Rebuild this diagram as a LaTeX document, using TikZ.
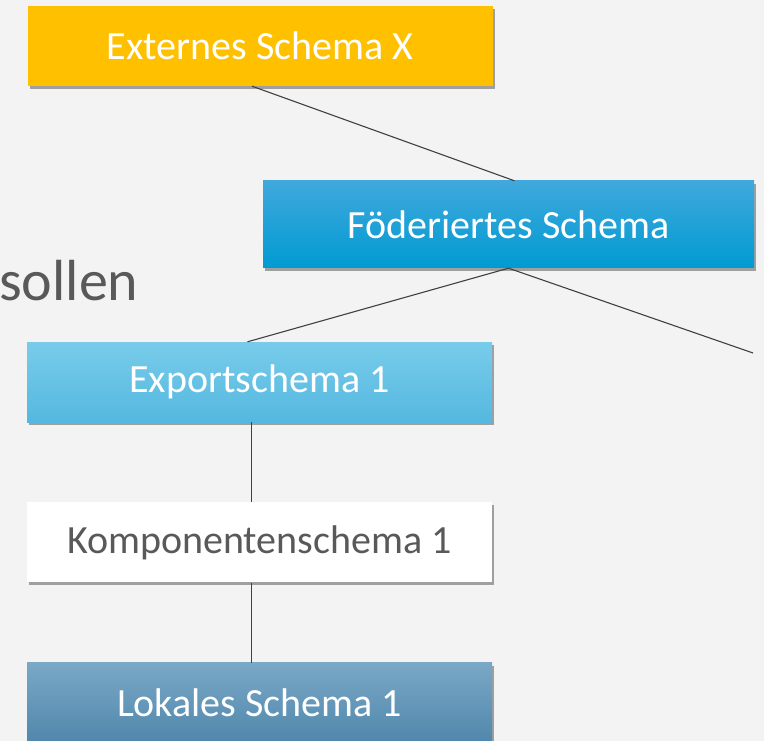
\documentclass[tikz,border=0pt]{standalone}
\usepackage{fontspec}
\setmainfont{Carlito}
\usepackage{xcolor}
\usetikzlibrary{positioning,shadows,calc}

\definecolor{bggray}{HTML}{F3F3F3}
\definecolor{txtgray}{HTML}{595959}
\definecolor{linegray}{HTML}{404040}
\definecolor{extgelb}{HTML}{FFC000}

\begin{document}
\begin{tikzpicture}[
    x=1pt, y=1pt,
    schema/.style={rectangle, minimum width=465pt, minimum height=80pt,
      inner sep=0pt, align=center, text=white,
      font=\fontsize{40}{48}\selectfont,
      drop shadow={shadow xshift=2pt, shadow yshift=-3pt,
        fill=black!70, opacity=0.5}},
    verb/.style={line width=1.1pt, linegray}
]
\useasboundingbox[fill=bggray] (0,0) rectangle (764,-741);

% --- Text links ---
\node[anchor=base west, inner sep=0pt, text=txtgray,
      font=\fontsize{58}{68}\selectfont] (sollen) at (-1,-300) {sollen};

% --- Schemata ---
\node[schema, fill=extgelb] (ext) at (260,-46) {Externes Schema X};
\node[schema, minimum width=491pt, minimum height=87pt,
      top color={rgb,255:red,64;green,168;blue,220},
      bottom color={rgb,255:red,0;green,155;blue,210}]
      (foed) at (508.5,-224.5) {Föderiertes Schema};
\node[schema, top color={rgb,255:red,120;green,204;blue,234},
      bottom color={rgb,255:red,85;green,184;blue,224}]
      (exp) at (259.5,-382) {Exportschema 1};
\node[schema, fill=white, text=txtgray, below=80pt of exp] (komp)
      {Komponentenschema 1};
\node[schema, top color={rgb,255:red,122;green,168;blue,198},
      bottom color={rgb,255:red,80;green,135;blue,172},
      below=80pt of komp] (lok) {Lokales Schema 1};

% --- Verbindungen ---
\coordinate (rest) at (753,-353);
\draw[verb] ([xshift=-8pt]ext.south) -- ([xshift=6pt]foed.north);
\draw[verb] (foed.south) -- ([xshift=-12pt]exp.north);
\draw[verb] (foed.south) -- (rest);
\draw[verb] ([xshift=-8pt]exp.south) -- ([xshift=-8pt]komp.north);
\draw[verb] ([xshift=-8pt]komp.south) -- ([xshift=-8pt]lok.north);
\end{tikzpicture}
\end{document}
